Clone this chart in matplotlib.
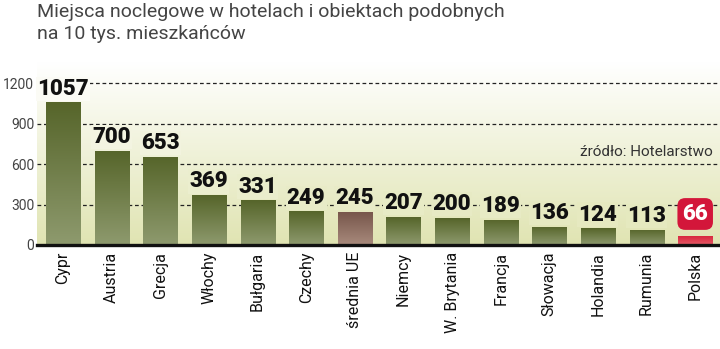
import matplotlib
matplotlib.use("Agg")
import matplotlib.pyplot as plt
import matplotlib.colors as mcolors
import numpy as np

# data
countries = ["Cypr", "Austria", "Grecja", "Włochy", "Bułgaria", "Czechy", "średnia UE",
             "Niemcy", "W. Brytania", "Francja", "Słowacja", "Holandia", "Rumunia", "Polska"]
values = [1057, 700, 653, 369, 331, 249, 245, 207, 200, 189, 136, 124, 113, 66]
kinds = ["c"] * 6 + ["eu"] + ["c"] * 6 + ["pl"]
yticks = [0, 300, 600, 900, 1200]

TITLE = "Miejsca noclegowe w hotelach i obiektach podobnych\nna 10 tys. mieszkańców"
SOURCE = "źródło: Hotelarstwo"

# bar colours, top -> bottom
GRAD = {"c": ("#56652a", "#8e9a6e"),
        "eu": ("#76554a", "#a88a7c"),
        "pl": ("#d8283f", "#e55a66")}
BG_TOP, BG_BOT = "#ffffff", "#e0e4b2"

plt.rcParams["font.family"] = ["Roboto", "DejaVu Sans"]

fig = plt.figure(figsize=(7.2, 3.49), dpi=100)
ax = fig.add_axes([37 / 720, 104 / 349, 1 - 37 / 720, (349 - 104 - 62) / 349])

YMAX = 1357
XL = (-0.535, len(values) - 0.49)
ax.set_xlim(*XL)
ax.set_ylim(0, YMAX)

# background gradient
grad = np.linspace(1, 0, 256).reshape(-1, 1)
bg_cmap = mcolors.LinearSegmentedColormap.from_list("bg", [BG_BOT, BG_TOP])
ax.imshow(grad, extent=(XL[0], XL[1], 0, YMAX), aspect="auto",
          cmap=bg_cmap, origin="upper", zorder=0)


def bg_at(y):
    t = y / YMAX
    a = np.array(mcolors.to_rgb(BG_BOT))
    b = np.array(mcolors.to_rgb(BG_TOP))
    return tuple(a + (b - a) * t)


# dashed grid lines
for t in yticks[1:]:
    ax.axhline(t, color="#222222", lw=0.9, ls=(0, (3, 2.2)), zorder=1)

x = np.arange(len(values))
bars = ax.bar(x, values, width=0.70, color="none", zorder=2)
for b, v, k in zip(bars, values, kinds):
    cm = mcolors.LinearSegmentedColormap.from_list("b", [GRAD[k][1], GRAD[k][0]])
    im = ax.imshow(np.linspace(0, 1, 128).reshape(-1, 1),
                   extent=(b.get_x(), b.get_x() + b.get_width(), 0, v),
                   aspect="auto", cmap=cm, origin="lower", zorder=2)
    im.set_clip_path(b)

# value labels
for xi, v, k in zip(x, values, kinds):
    if k == "pl":
        ax.annotate(str(v), (xi, v), xytext=(0, 8), textcoords="offset points",
                    ha="center", va="bottom", fontsize=16, fontweight="black",
                    color="white", zorder=5,
                    bbox=dict(boxstyle="round,pad=0.22,rounding_size=0.35", fc="#d3163a", ec="none"))
    else:
        ax.annotate(str(v), (xi, v), xytext=(0, 2), textcoords="offset points",
                    ha="center", va="bottom", fontsize=16, fontweight="black",
                    color="#111111", zorder=5,
                    bbox=dict(boxstyle="square,pad=0.05", fc=bg_at(v + 120), ec="none"))

ax.set_yticks(yticks)
ax.set_yticklabels([str(t) for t in yticks], fontsize=10, color="#444444")
ax.tick_params(axis="y", length=0, pad=2)
ax.set_xticks(x)
ax.set_xticklabels(countries, rotation=90, fontsize=11.5, color="#111111", va="top")
ax.tick_params(axis="x", length=0, pad=5)

for s in ["left", "right", "top"]:
    ax.spines[s].set_visible(False)
ax.spines["bottom"].set_linewidth(2.4)
ax.spines["bottom"].set_color("#111111")
ax.spines["bottom"].set_zorder(4)

ax.text(0.99, 0.47, SOURCE, transform=ax.transAxes, ha="right", va="bottom",
        fontsize=11, color="#333333", zorder=5)

fig.text(37 / 720, 1 - 3 / 349, TITLE, ha="left", va="top", fontsize=14,
         color="#444444", linespacing=1.3)

fig.savefig("out.png", dpi=100)
